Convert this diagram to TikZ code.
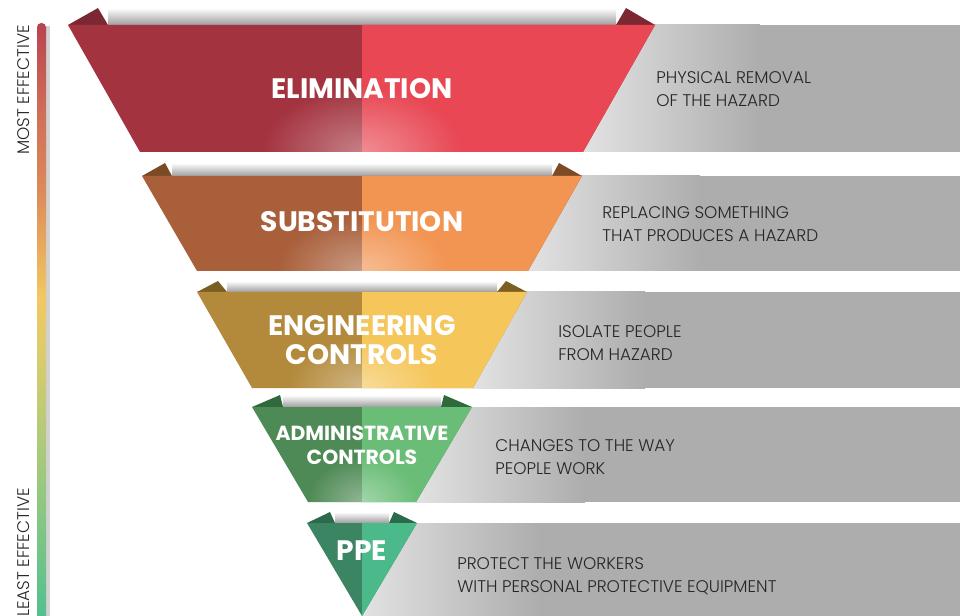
\documentclass[tikz,border=0pt]{standalone}
\usepackage{fontspec}
\setmainfont{Poppins}
\newfontfamily\lightfont{Poppins Light}
\usetikzlibrary{fadings}

% ribbon colours (dark left half, light right half, folded flap)
\definecolor{elimL}{HTML}{A3333F}
\definecolor{elimR}{HTML}{E84753}
\definecolor{elimF}{HTML}{7B2832}
\definecolor{substL}{HTML}{A95F3A}
\definecolor{substR}{HTML}{F29553}
\definecolor{substF}{HTML}{7D4A26}
\definecolor{enginL}{HTML}{B38A3C}
\definecolor{enginR}{HTML}{F5C65A}
\definecolor{enginF}{HTML}{7A5E22}
\definecolor{adminL}{HTML}{4E8A55}
\definecolor{adminR}{HTML}{6ABD77}
\definecolor{adminF}{HTML}{2F6A3C}
\definecolor{ppeL}{HTML}{3B8563}
\definecolor{ppeR}{HTML}{4CB98A}
\definecolor{ppeF}{HTML}{2C6A4C}
\definecolor{bandgray}{HTML}{ADADAD}
\definecolor{bandlight}{HTML}{E2E2E2}
\definecolor{barA}{HTML}{4FBF8F}
\definecolor{barB}{HTML}{9CC97F}
\definecolor{barC}{HTML}{D8CC6E}
\definecolor{barD}{HTML}{F2C862}
\definecolor{barE}{HTML}{DC8A5A}
\definecolor{barF}{HTML}{CF6C58}
\definecolor{barG}{HTML}{B8434F}

\tikzfading[name=glow, inner color=transparent!0, outer color=transparent!100]
% only the middle half (25bp..75bp) of a shading lands on the path
\pgfdeclareverticalshading{effbar}{100bp}{color(0bp)=(barA); color(25bp)=(barA);
  color(37bp)=(barB); color(47bp)=(barC); color(52bp)=(barD); color(61bp)=(barE);
  color(68bp)=(barF); color(75bp)=(barG); color(100bp)=(barG)}

\begin{document}
\begin{tikzpicture}[x=0.025cm,y=-0.025cm]
		\tikzstyle{title}=[text=white, font=\bfseries\fontsize{20}{21}\selectfont, align=center]
		\tikzstyle{desc}=[text=black!85, font=\lightfont\fontsize{12}{16.3}\selectfont, align=left, anchor=west, inner sep=0pt]
		\tikzstyle{side}=[text=black!85, font=\lightfont\fontsize{12}{14}\selectfont, rotate=90, anchor=east, inner sep=0pt]
		\tikzstyle{fold}=[top color=white, bottom color=black!38]
		\tikzstyle{band}=[left color=bandlight, right color=bandgray]
		\tikzstyle{shine}=[white, fill opacity=0.38, path fading=glow]
		\useasboundingbox (0,0) rectangle (960,616);

		% effectiveness bar
		\fill[black!18] (46,26) rectangle (50,616);
		\shade[shading=effbar, rounded corners=3pt] (37,23) rectangle (46,622);
		\node[side] (most) at (24,25) {MOST EFFECTIVE};
		\node[side] (least) at (24,488) {LEAST EFFECTIVE};

		% elimination
		\fill[bandgray] (583,25) rectangle (960,152);
		\shade[band] (583,25) rectangle (760,152);
		\shade[fold] (108,8) rectangle (616,25);
		\fill[elimF] (68,25) -- (98,8) -- (108,25) -- cycle;
		\fill[elimF] (655,25) -- (626,8) -- (616,25) -- cycle;
		\fill[elimL] (68,25) -- (655,25) -- (583,152) -- (140,152) -- cycle;
		\fill[elimR] (362,25) -- (655,25) -- (583,152) -- (362,152) -- cycle;
		\begin{scope}
			\clip (68,25) -- (655,25) -- (583,152) -- (140,152) -- cycle;
			\fill[shine] (362,152) ellipse (100 and 65);
		\end{scope}
		\node[title] (elim) at (362,89) {ELIMINATION};
		\node[desc] (elimtxt) at (656,89) {PHYSICAL REMOVAL\\OF THE HAZARD};

		% substitution
		\fill[bandgray] (528,176) rectangle (960,271);
		\shade[band] (528,176) rectangle (700,271);
		\shade[fold] (172,163) rectangle (552,176);
		\fill[substF] (142,176) -- (165,163) -- (172,176) -- cycle;
		\fill[substF] (582,176) -- (559,163) -- (552,176) -- cycle;
		\fill[substL] (142,176) -- (582,176) -- (528,271) -- (197,271) -- cycle;
		\fill[substR] (362,176) -- (582,176) -- (528,271) -- (362,271) -- cycle;
		\begin{scope}
			\clip (142,176) -- (582,176) -- (528,271) -- (197,271) -- cycle;
			\fill[shine] (362,271) ellipse (85 and 55);
		\end{scope}
		\node[title] (subst) at (362,222) {SUBSTITUTION};
		\node[desc] (substtxt) at (602,224) {REPLACING SOMETHING\\THAT PRODUCES A HAZARD};

		% engineering controls
		\fill[bandgray] (473,292) rectangle (960,388);
		\shade[band] (473,292) rectangle (645,388);
		\shade[fold] (227,281) rectangle (497,292);
		\fill[enginF] (197,292) -- (218,281) -- (227,292) -- cycle;
		\fill[enginF] (527,292) -- (506,281) -- (497,292) -- cycle;
		\fill[enginL] (197,292) -- (527,292) -- (473,388) -- (252,388) -- cycle;
		\fill[enginR] (362,292) -- (527,292) -- (473,388) -- (362,388) -- cycle;
		\begin{scope}
			\clip (197,292) -- (527,292) -- (473,388) -- (252,388) -- cycle;
			\fill[shine] (362,388) ellipse (75 and 50);
		\end{scope}
		\node[title] (engin) at (362,340) {ENGINEERING\\CONTROLS};
		\node[desc] (engintxt) at (558,343) {ISOLATE PEOPLE\\FROM HAZARD};

		% administrative controls
		\fill[bandgray] (416,407) rectangle (960,502);
		\shade[band] (416,407) rectangle (585,502);
		\shade[fold] (283,395) rectangle (441,407);
		\fill[adminF] (252,407) -- (280,395) -- (283,407) -- cycle;
		\fill[adminF] (472,407) -- (444,395) -- (441,407) -- cycle;
		\fill[adminL] (252,407) -- (472,407) -- (416,502) -- (308,502) -- cycle;
		\fill[adminR] (362,407) -- (472,407) -- (416,502) -- (362,502) -- cycle;
		\begin{scope}
			\clip (252,407) -- (472,407) -- (416,502) -- (308,502) -- cycle;
			\fill[shine] (362,502) ellipse (55 and 45);
		\end{scope}
		\node[title, font=\bfseries\fontsize{14.5}{17}\selectfont] (admin) at (362,445) {ADMINISTRATIVE\\CONTROLS};
		\node[desc] (admintxt) at (495,457) {CHANGES TO THE WAY\\PEOPLE WORK};

		% personal protective equipment
		\fill[bandgray] (362,523) rectangle (960,616);
		\shade[band] (362,523) rectangle (540,616);
		\shade[fold] (335,512) rectangle (389,523);
		\fill[ppeF] (307,523) -- (330,512) -- (335,523) -- cycle;
		\fill[ppeF] (417,523) -- (394,512) -- (389,523) -- cycle;
		\fill[ppeL] (307,523) -- (417,523) -- (362,616) -- cycle;
		\fill[ppeR] (362,523) -- (417,523) -- (362,616) -- cycle;
		\node[title] (ppe) at (362,551) {PPE};
		\node[desc] (ppetxt) at (457,576) {PROTECT THE WORKERS\\WITH PERSONAL PROTECTIVE EQUIPMENT};
	\end{tikzpicture}
\end{document}
